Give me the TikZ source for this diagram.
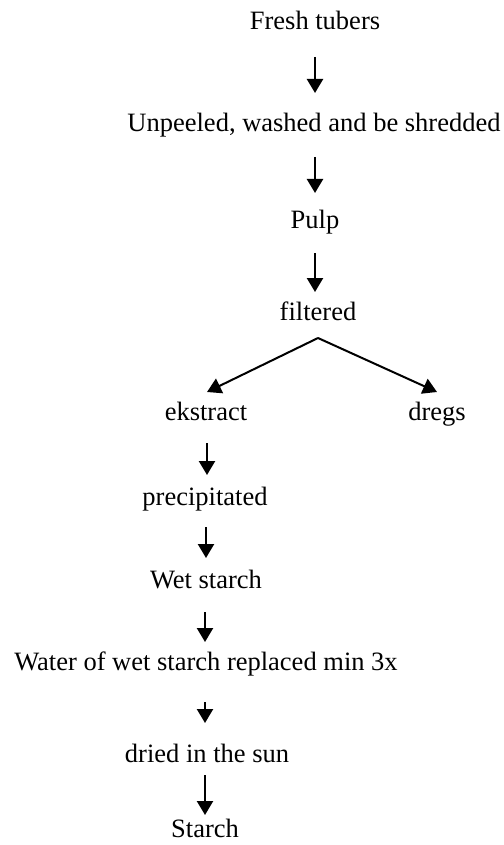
\documentclass[tikz,border=0pt]{standalone}
\usepackage{fontspec}
\setmainfont{Liberation Serif}
\usetikzlibrary{arrows.meta,calc}
\begin{document}
\begin{tikzpicture}[x=1pt,y=-1pt,
  lbl/.style={anchor=base,inner sep=0pt,font=\fontsize{26.5}{30}\selectfont},
  arr/.style={line width=2.3pt,-{Triangle[length=14pt,width=16pt]}}]
\useasboundingbox (0,0) rectangle (503,845);
\node[lbl] (fresh) at (315,30) {Fresh tubers};
\node[lbl] (unpeel) at (314,132) {Unpeeled, washed and be shredded};
\node[lbl] (pulp) at (315,228) {Pulp};
\node[lbl] (filt) at (318,320) {filtered};
\node[lbl] (ekst) at (206,420) {ekstract};
\node[lbl] (dregs) at (437,420) {dregs};
\node[lbl] (prec) at (205,505) {precipitated};
\node[lbl] (wet) at (206,588) {Wet starch};
\node[lbl] (water) at (206,670) {Water of wet starch replaced min 3x};
\node[lbl] (dried) at (207,762) {dried in the sun};
\node[lbl] (starch) at (205,837) {Starch};
\draw[arr] ($(fresh.base)+(0,27)$) -- ($(unpeel.base -| fresh.base)+(0,-39)$);
\draw[arr] ($(unpeel.base -| pulp.base)+(0,25)$) -- ($(pulp.base)+(0,-35)$);
\draw[arr] ($(pulp.base)+(0,25)$) -- ($(filt.base -| pulp.base)+(0,-28)$);
\coordinate (apex) at ($(filt.base)+(0,18)$);
\draw[arr,line width=2pt] (apex) -- ($(ekst.base)+(1,-28)$);
\draw[arr,line width=2pt] (apex) -- ($(dregs.base)+(0,-28)$);
\draw[arr] ($(ekst.base)+(1,23)$) -- ($(prec.base -| ekst.base)+(1,-30)$);
\draw[arr] ($(prec.base -| wet.base)+(0,22)$) -- ($(wet.base)+(0,-30)$);
\draw[arr] ($(wet.base)+(-1,24)$) -- ($(water.base -| wet.base)+(-1,-28)$);
\draw[arr] ($(water.base -| starch.base)+(0,32)$) -- ($(dried.base -| starch.base)+(0,-39)$);
\draw[arr] ($(dried.base -| starch.base)+(0,13)$) -- ($(starch.base)+(0,-22)$);
\end{tikzpicture}
\end{document}
